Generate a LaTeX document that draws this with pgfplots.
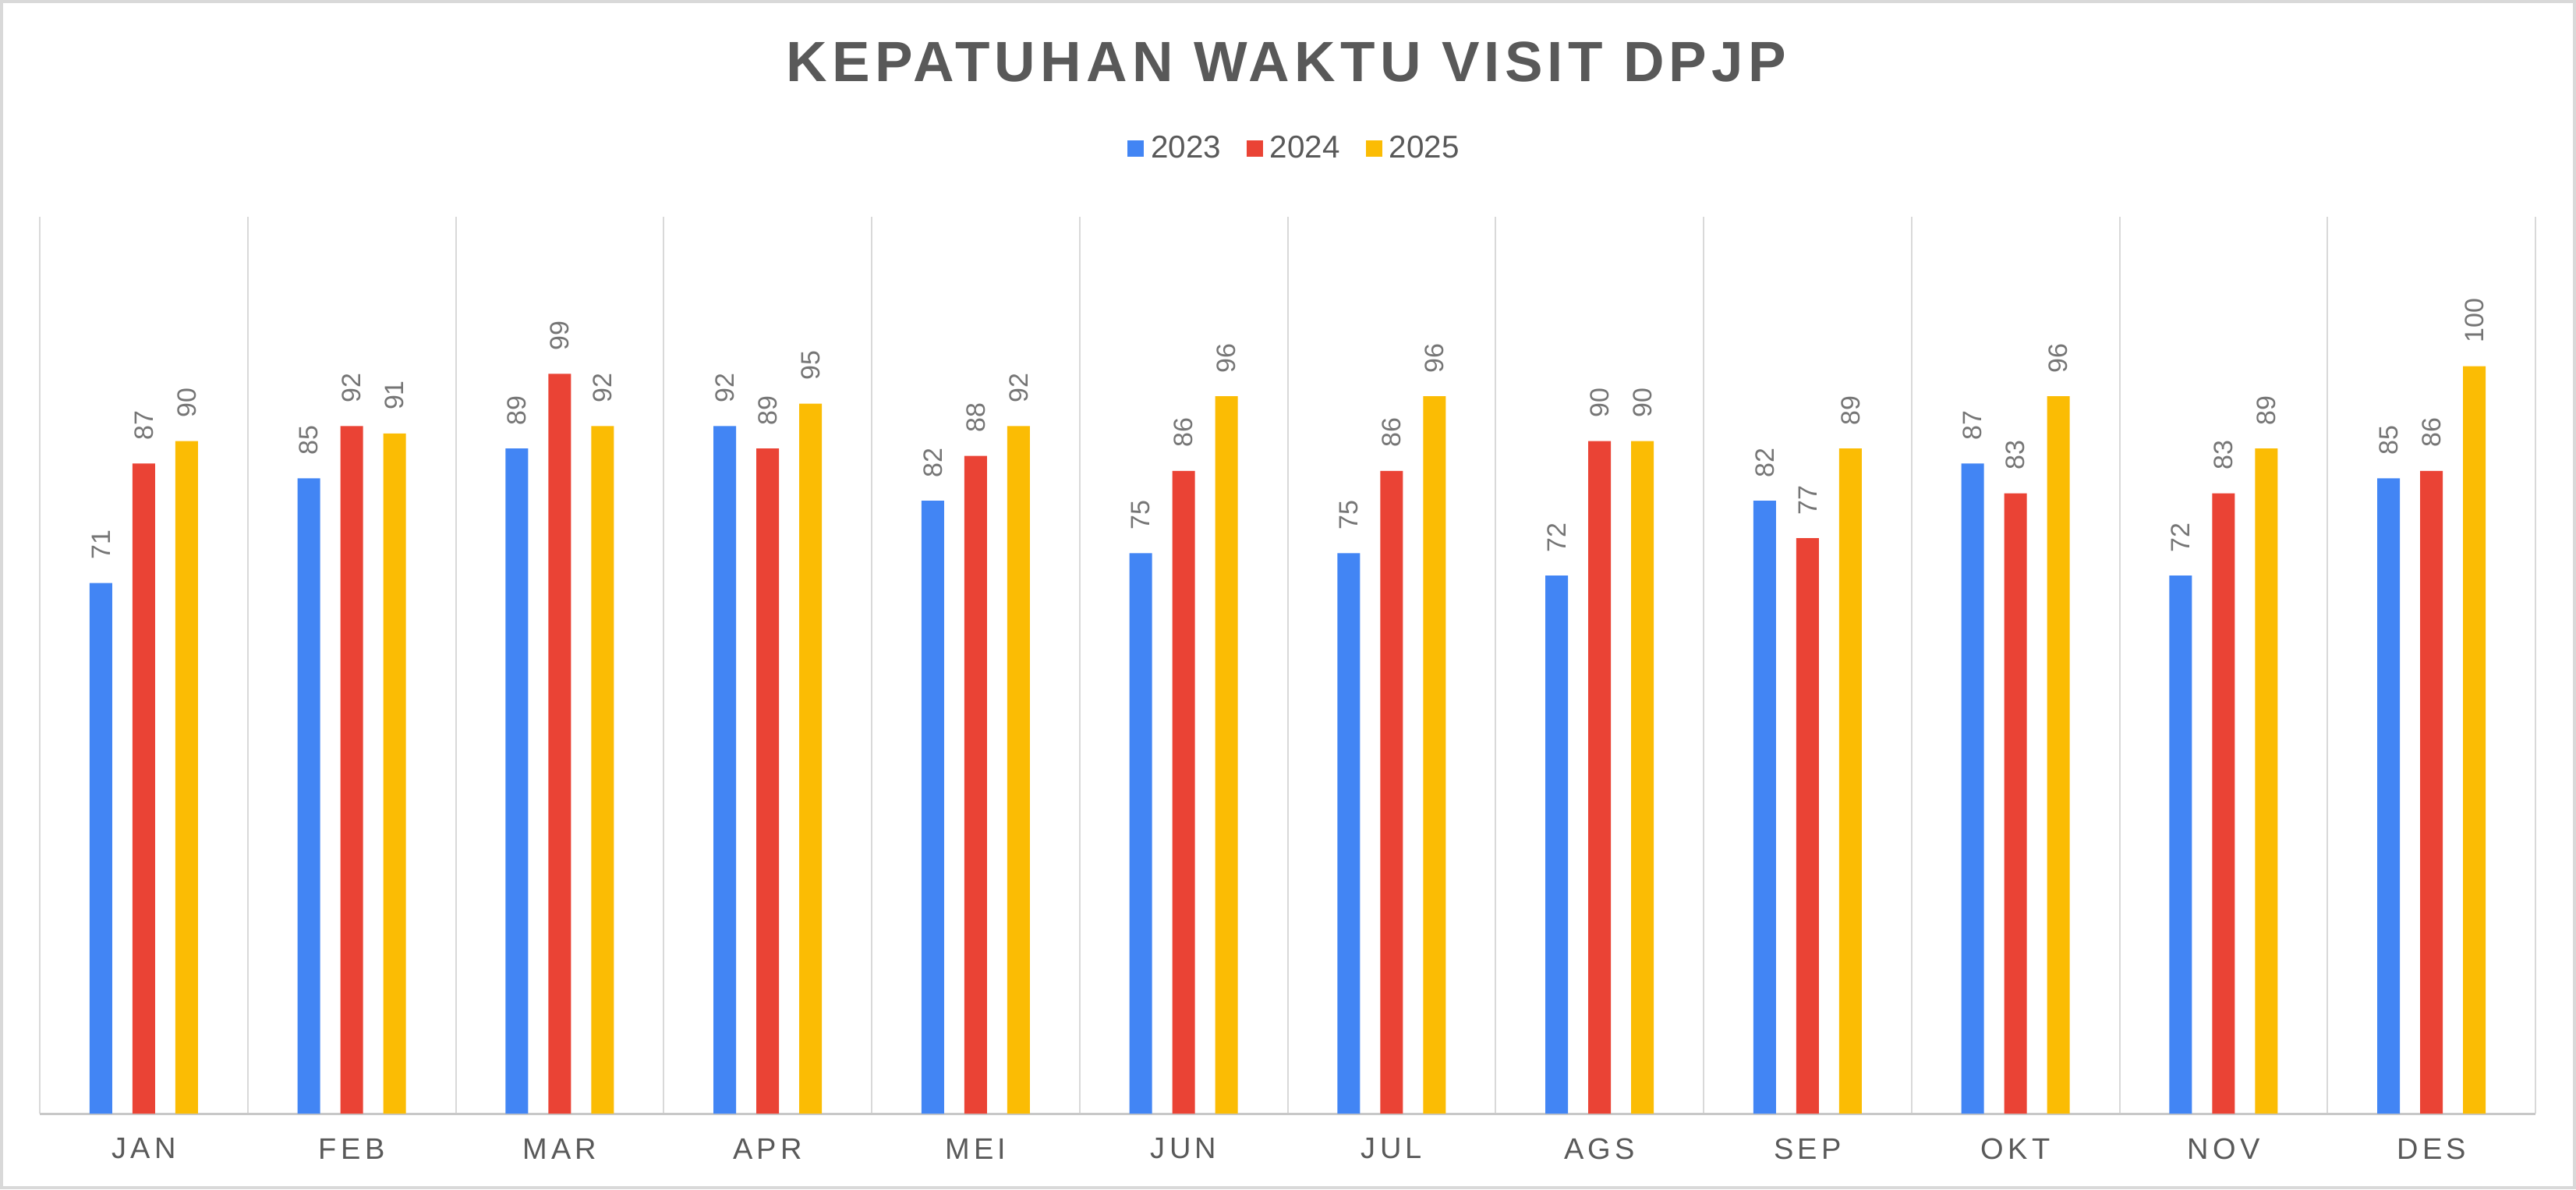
\documentclass[border=0pt]{standalone}
\usepackage{fontspec}
\setmainfont{Liberation Sans}
\newfontfamily\titlefont[LetterSpace=8.5]{Liberation Sans}
\newfontfamily\monthfont[LetterSpace=14]{Liberation Sans}
\usepackage{pgfplots}
\pgfplotsset{compat=1.18}
\usepackage{pgfplotstable}

\definecolor{c23}{HTML}{4285F4}
\definecolor{c24}{HTML}{EA4335}
\definecolor{c25}{HTML}{FBBC04}
\definecolor{txt}{HTML}{595959}
\definecolor{lbl}{HTML}{757575}
\definecolor{gridc}{HTML}{D9D9D9}
\definecolor{axisc}{HTML}{C8C8C8}

% month index, 2023, 2024, 2025
\pgfplotstableread{
x y23 y24 y25
0 71 87 90
1 85 92 91
2 89 99 92
3 92 89 95
4 82 88 92
5 75 86 96
6 75 86 96
7 72 90 90
8 82 77 89
9 87 83 96
10 72 83 89
11 85 86 100
}\visit

\begin{document}
\begin{tikzpicture}
\draw[gridc, line width=1pt] (0.5pt,0.5pt) rectangle (825.5pt,380.75pt);
\node[font=\titlefont\bfseries\fontsize{18.2}{20}\selectfont, text=txt, inner sep=0pt]
  at (412.5pt,361.5pt) {KEPATUHAN WAKTU VISIT DPJP};
\begin{axis}[
    at={(12.75pt,24.25pt)}, anchor=south west,
    scale only axis, width=800.25pt, height=287.5pt,
    xmin=-0.5, xmax=11.5, ymin=0, ymax=120,
    axis x line=bottom, axis y line=none,
    x axis line style={-, draw=axisc, line width=0.75pt},
    xtick={0,...,11},
    xticklabels={JAN,FEB,MAR,APR,MEI,JUN,JUL,AGS,SEP,OKT,NOV,DES},
    minor xtick={-0.5,0.5,...,11.5},
    xminorgrids=true,
    minor grid style={gridc, line width=0.5pt},
    major tick length=0pt, minor tick length=0pt,
    xticklabel style={font=\monthfont\fontsize{9.5}{11}\selectfont, text=txt,
      anchor=center, yshift=-11.25pt},
    ybar=6.5pt, bar width=7.25pt,
    nodes near coords,
    every node near coord/.append style={rotate=90, anchor=west, inner sep=0pt,
      outer xsep=7.5pt, font=\fontsize{8.5}{10}\selectfont, text=lbl},
    /pgf/number format/assume math mode=true,
    legend columns=3,
    legend style={at={(0.5023,1.0757)}, anchor=center, draw=none, fill=none,
      font=\fontsize{10.1}{12}\selectfont, text=txt,
      nodes={inner xsep=0pt, inner ysep=1pt},
      /tikz/every odd column/.append style={column sep=2.25pt},
      /tikz/every even column/.append style={column sep=8.25pt}},
  ]
  \addplot[fill=c23, draw=none,
    legend image code/.code={\fill[c23] (0pt,-2.625pt) rectangle (5.25pt,2.625pt);}]
    table[x=x, y=y23] {\visit};
  \addplot[fill=c24, draw=none,
    legend image code/.code={\fill[c24] (0pt,-2.625pt) rectangle (5.25pt,2.625pt);}]
    table[x=x, y=y24] {\visit};
  \addplot[fill=c25, draw=none,
    legend image code/.code={\fill[c25] (0pt,-2.625pt) rectangle (5.25pt,2.625pt);}]
    table[x=x, y=y25] {\visit};
  \legend{2023,2024,2025}
\end{axis}
\end{tikzpicture}
\end{document}
